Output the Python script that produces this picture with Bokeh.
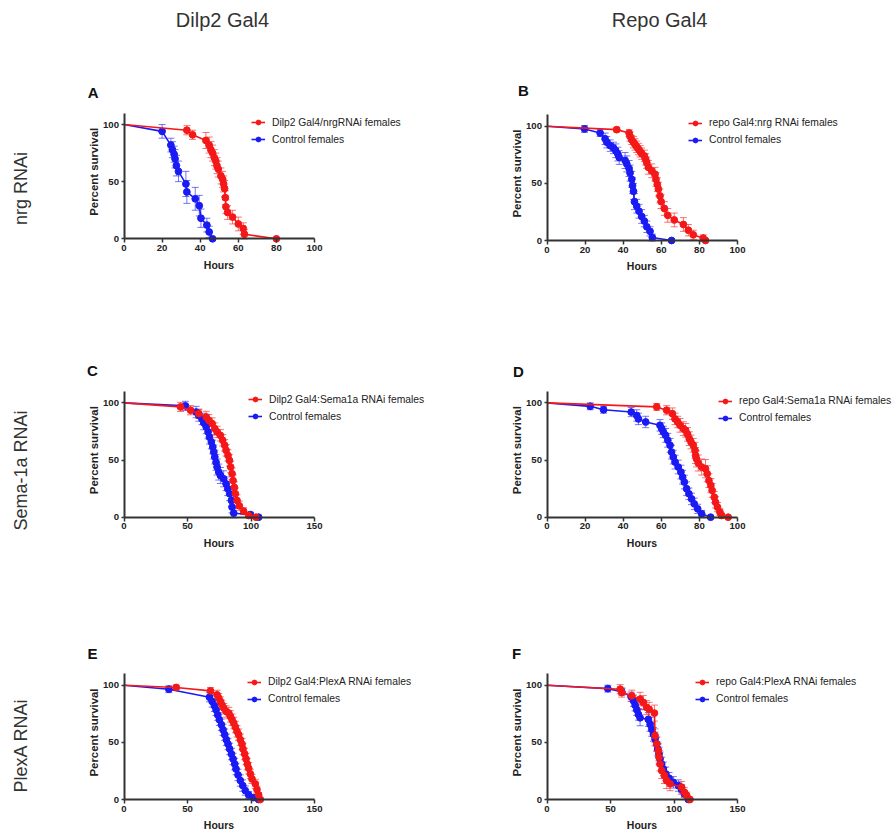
import math
from bokeh.plotting import figure
from bokeh.models import (Range1d, FixedTicker, Label, Legend, LegendItem,
                          Whisker, TeeHead, ColumnDataSource)
from bokeh.layouts import row, column
from bokeh.embed import file_html
from bokeh.resources import INLINE

# ---------------- data ----------------
col_titles = ["Dilp2 Gal4", "Repo Gal4"]
row_titles = ["nrg RNAi", "Sema-1a RNAi", "PlexA RNAi"]
panel_letters = ["A", "B", "C", "D", "E", "F"]
control_label = "Control females"
red_labels = ["Dilp2 Gal4/nrgRNAi females", "repo Gal4:nrg RNAi females",
              "Dilp2 Gal4:Sema1a RNAi females", "repo Gal4:Sema1a RNAi females",
              "Dilp2 Gal4:PlexA RNAi females", "repo Gal4:PlexA RNAi females"]
x_max = [100, 100, 150, 100, 150, 150]
x_ticks_100 = [0, 20, 40, 60, 80, 100]
x_ticks_150 = [0, 50, 100, 150]
y_ticks = [0, 50, 100]

# Panel A
a_red_x = [0, 33, 36, 43, 44.7, 45.6, 46.5, 47.4, 48.2, 48.8, 49.5, 50.9, 51.8, 52.3, 52.8, 53.2, 53.5, 54.4, 57, 60, 62.6, 63.2, 80]
a_red_y = [100, 95, 91, 86, 82, 78, 75, 71, 68, 64, 61, 55, 52, 48, 44, 36, 28, 23, 19, 13, 9, 4, 0]
a_red_e = [0, 4, 4, 7, 7, 7, 7, 7, 7, 7, 7, 7, 7, 7, 7, 6, 6, 6, 6, 6, 5, 4, 0]
a_blue_x = [0, 20, 24.6, 25.4, 26.3, 26.8, 27.5, 28.6, 32.5, 33, 37.4, 39.5, 40.4, 43.5, 44.7, 46.5]
a_blue_y = [100, 94, 82, 78, 74, 70, 64, 59, 48, 41, 35, 29, 18, 12, 6, 0]
a_blue_e = [0, 6, 6, 7, 7, 8, 9, 9, 11, 10, 10, 9, 8, 6, 5, 0]

# Panel B
b_red_x = [0, 36.6, 43.1, 43.6, 44.5, 45.4, 46.2, 47.1, 48, 48.9, 49.7, 51.1, 51.8, 52.4, 53.2, 55, 56.7, 57.2, 57.9, 58.5, 59.3, 59.9, 61.6, 63.4, 66.8, 71.6, 74.2, 76.8, 82, 83.2]
b_red_y = [100, 97, 94, 91, 88, 86, 84, 82, 80, 78, 76, 74, 71, 68, 64, 61, 58, 53.5, 49, 45, 39, 34, 28, 22, 18, 14, 9, 5, 2, 0]
b_red_e = [0, 2, 3, 4, 4, 5, 5, 5, 5, 5, 5, 5, 5, 5, 6, 6, 6, 6, 6, 6, 6, 6, 6, 6, 6, 6, 5, 4, 3, 0]
b_blue_x = [0, 19.7, 27.9, 30.5, 31.4, 33.2, 34.9, 36.1, 37.2, 37.9, 41, 41.9, 43.1, 43.6, 44.5, 44.9, 45.4, 45.9, 47.1, 48.3, 49.7, 51.1, 52.4, 54.1, 55.3, 65.4]
b_blue_y = [100, 97.6, 94, 89, 86, 83, 81, 78.5, 75.6, 72.6, 70, 67, 63, 59, 53.5, 48, 43, 34, 30, 25.6, 21, 17, 12, 8, 2.6, 0]
b_blue_e = [0, 3, 3, 5, 5, 5, 5, 6, 6, 6, 7, 7, 7, 7, 7, 7, 7, 7, 6, 6, 6, 5, 5, 4, 3, 0]

# Panel C
c_red_x = [0, 44.5, 52.4, 58.9, 64.7, 66.8, 69.4, 71.5, 73.3, 75.9, 77.7, 79.3, 80.4, 81.9, 83, 84, 85.1, 85.9, 86.9, 87.7, 89, 90.8, 94.2, 98.2, 103.9]
c_red_y = [100, 96.5, 93.6, 90.6, 87.7, 84.8, 81.9, 77.5, 74.6, 71.6, 67.3, 62.9, 58.5, 54, 49.7, 43.9, 38, 32, 26, 20.5, 14.6, 10, 5.3, 1.5, 0]
c_red_e = [0, 4, 4, 4, 5, 5, 5, 5, 5, 5, 5, 5, 5, 5, 5, 5, 5, 5, 5, 5, 5, 4, 3, 2, 0]
c_blue_x = [0, 48.4, 56.8, 58.9, 61.5, 62.8, 64.7, 66.2, 67.3, 68.8, 69.9, 70.7, 71.5, 72.5, 73.3, 74.6, 75.9, 78.5, 80.4, 81.7, 83.2, 84.6, 85.1, 86.4, 99.5, 106]
c_blue_y = [100, 97.4, 92, 89, 86, 82.5, 79, 74.6, 70, 65.8, 61.4, 57, 52.6, 48, 43.9, 39.5, 36.5, 33.6, 29.2, 24.9, 20.5, 14.6, 8.8, 3.5, 2.3, 0]
c_blue_e = [0, 4, 5, 5, 5, 6, 6, 6, 6, 6, 6, 6, 6, 7, 7, 7, 7, 7, 6, 6, 6, 5, 5, 4, 2, 0]

# Panel D
d_red_x = [0, 57.6, 62.8, 65.8, 67.2, 68.6, 69.8, 71.6, 72.8, 73.8, 74.7, 75.6, 76.8, 77.7, 78, 78.5, 79.4, 81.2, 83.2, 84.1, 85, 86, 86.7, 87.8, 88.5, 89.5, 90.8, 91.6, 95.1]
d_red_y = [100, 96.5, 93.6, 90.6, 86, 83.3, 80.4, 77.5, 76, 72.5, 68.7, 65.8, 62.9, 58.5, 54, 51, 47.4, 43.9, 42.4, 38, 32, 27.8, 23.4, 17.5, 13, 8.8, 4.4, 1.5, 0]
d_red_e = [0, 3, 4, 5, 5, 5, 6, 6, 6, 6, 6, 6, 6, 7, 7, 7, 7, 7, 8, 7, 6, 6, 6, 5, 5, 4, 3, 2, 0]
d_blue_x = [0, 22.7, 29.7, 44.2, 47.1, 48, 51.8, 59.3, 60.2, 61.1, 62.3, 63.4, 64.6, 65.4, 66.3, 67.2, 68.9, 70.3, 71.2, 72.1, 73.3, 74.5, 75.9, 77.3, 79.1, 81.2, 85.9]
d_blue_y = [100, 97, 94, 92, 89, 86, 83.3, 80.4, 77.5, 74.6, 71.6, 67.3, 62.9, 57, 52.6, 48.2, 43.9, 39.5, 35, 30.7, 24.9, 20.5, 16, 11.7, 7.3, 2.9, 0]
d_blue_e = [0, 3, 3, 4, 5, 5, 5, 5, 5, 5, 6, 6, 6, 6, 6, 6, 6, 6, 6, 6, 6, 5, 5, 5, 4, 3, 0]

# Panel E
e_red_x = [0, 41.1, 68.1, 73.3, 74.6, 75.9, 77.2, 78.5, 80.4, 82.5, 83.8, 85.1, 86.4, 87.7, 89, 90.3, 91.6, 92.9, 93.7, 95, 96.1, 97.1, 98.2, 99.5, 100.8, 103.4, 104.7, 106, 107.3]
e_red_y = [100, 98, 95, 91.6, 88.7, 85.8, 82.8, 80, 77, 75.6, 72.7, 69.8, 66.9, 63.4, 59.6, 56.7, 52.3, 48.5, 44.2, 39.8, 35.5, 31, 27.3, 22.4, 18, 13.7, 8.7, 4, 0]
e_red_e = [0, 2, 3, 4, 4, 4, 4, 4, 5, 5, 5, 5, 5, 5, 5, 5, 5, 5, 5, 5, 5, 5, 5, 4, 4, 4, 3, 2, 0]
e_blue_x = [0, 35.3, 67.3, 69.4, 71.2, 72.5, 73.8, 75.1, 76.7, 78, 79.3, 80.6, 81.9, 83.2, 84.6, 85.9, 87.2, 88.2, 89.8, 91.6, 93.5, 95.5, 98.2, 102.1, 106]
e_blue_y = [100, 96.5, 89.5, 85.8, 82, 78.5, 74, 69.8, 65.4, 61, 56.7, 52.3, 48.5, 44.2, 39.8, 35.5, 31, 26.7, 21.5, 16.6, 12.2, 7.8, 4, 1.7, 0]
e_blue_e = [0, 3, 4, 5, 5, 5, 5, 5, 5, 5, 5, 5, 5, 5, 5, 5, 5, 5, 5, 5, 5, 4, 3, 2, 0]

# Panel F
f_red_x = [0, 57.6, 58.9, 66.8, 73.3, 75.9, 78.5, 80.4, 84.6, 85.1, 86.4, 87.7, 88.2, 89, 90.3, 92.4, 94.2, 96.9, 106, 108.1, 110, 112.6]
f_red_y = [100, 96.5, 93.6, 90.7, 87.8, 84.9, 80.5, 79, 75.6, 55.8, 48.5, 42.7, 37, 31, 25.3, 21, 16.6, 13.7, 10.8, 6.4, 3.5, 0]
f_red_e = [0, 4, 4, 5, 6, 6, 6, 6, 7, 6, 6, 6, 6, 6, 7, 7, 7, 6, 5, 4, 3, 0]
f_blue_x = [0, 47.9, 58.9, 66.2, 68.1, 69.4, 70.7, 72, 73.3, 79.8, 81.2, 82.5, 83.8, 85.1, 86.4, 87.2, 88.2, 89, 90.3, 91.6, 93.5, 96.1, 99.5, 103.4, 106, 108.1, 111.3]
f_blue_y = [100, 97, 94.2, 90, 86.3, 82.5, 78.5, 74.4, 71.5, 70, 65.7, 61.3, 57, 52.9, 48.5, 44.2, 39.8, 35.5, 31, 26.7, 22.4, 18.6, 15, 12.2, 8.7, 5, 0]
f_blue_e = [0, 3, 3, 4, 5, 5, 5, 5, 7, 6, 6, 6, 6, 6, 6, 6, 6, 6, 6, 6, 6, 5, 5, 5, 4, 3, 0]

series = [
    (a_red_x, a_red_y, a_red_e, a_blue_x, a_blue_y, a_blue_e),
    (b_red_x, b_red_y, b_red_e, b_blue_x, b_blue_y, b_blue_e),
    (c_red_x, c_red_y, c_red_e, c_blue_x, c_blue_y, c_blue_e),
    (d_red_x, d_red_y, d_red_e, d_blue_x, d_blue_y, d_blue_e),
    (e_red_x, e_red_y, e_red_e, e_blue_x, e_blue_y, e_blue_e),
    (f_red_x, f_red_y, f_red_e, f_blue_x, f_blue_y, f_blue_e),
]

# ---------------- styling / layout (pixel geometry of the page) ----------------
FONT = "Liberation Sans"
RED = "#f41818"
BLUE = "#1a1af4"
AXIS = "#333333"
TEXT = "#222222"

AX_LEN_X = 190.5           # px for 0..xmax
PPY = 1.143                # px per percent

# cell geometry: (cell_x, cell_y, cell_w, cell_h), data origin (x0px, y0px)
cells = [
    (75, 70, 420, 279), (495, 70, 397, 279),
    (75, 349, 420, 281), (495, 349, 397, 281),
    (75, 630, 420, 199), (495, 630, 397, 199),
]
origins = [(123.5, 238.3), (546.5, 240), (123.5, 516.7), (546.5, 516.7), (123.5, 799), (546.5, 799)]
letter_pos = [(92.7, 92), (523, 90), (92, 370), (518, 371), (92, 653), (516, 653)]
legend_tl = [(251, 116), (688, 116.7), (248, 393), (718, 394.7), (247, 675.7), (695, 675.7)]
hours_dy = [26, 25, 26, 26, 25, 25]


def make_panel(i):
    cx, cy, cw, ch = cells[i]
    x0px, y0px = origins[i]
    xmax = x_max[i]
    ppx = AX_LEN_X / xmax

    def dx(px):
        return (px - x0px) / ppx

    def dy(py):
        return (y0px - py) / PPY

    p = figure(width=cw, height=ch, output_backend="svg", toolbar_location=None,
               x_range=Range1d(dx(cx), dx(cx + cw)), y_range=Range1d(dy(cy + ch), dy(cy)),
               min_border=0)
    p.outline_line_color = None
    p.grid.grid_line_color = None

    for ax in (p.xaxis[0], p.yaxis[0]):
        ax.axis_line_color = AXIS
        ax.axis_line_width = 2
        ax.major_tick_line_color = AXIS
        ax.major_tick_line_width = 1.5
        ax.major_tick_in = 0
        ax.minor_tick_line_color = None
        ax.major_label_text_font = FONT
        ax.major_label_text_font_style = "bold"
        ax.major_label_text_font_size = "9.6px"
        ax.major_label_text_color = TEXT
    p.xaxis.fixed_location = 0
    p.yaxis.fixed_location = 0
    p.xaxis.bounds = (0, xmax)
    p.yaxis.bounds = (0, 110)
    p.xaxis.ticker = FixedTicker(ticks=x_ticks_100 if xmax == 100 else x_ticks_150)
    p.yaxis.ticker = FixedTicker(ticks=y_ticks)
    p.xaxis.major_tick_out = 4
    p.xaxis.major_label_standoff = 2
    p.yaxis.major_tick_out = 3
    p.yaxis.major_label_standoff = 2

    rx, ry, re, bx, by, be = series[i]
    rends = {}
    for key, X, Y, E, col in (("blue", bx, by, be, BLUE), ("red", rx, ry, re, RED)):
        idx = [k for k in range(len(E)) if E[k] > 0]
        src = ColumnDataSource(dict(x=[X[k] for k in idx],
                                    upper=[Y[k] + E[k] for k in idx],
                                    lower=[Y[k] - E[k] for k in idx]))
        w = Whisker(source=src, base="x", upper="upper", lower="lower",
                    line_color=col, line_alpha=0.6, line_width=1,
                    upper_head=TeeHead(size=7, line_color=col, line_alpha=0.6, line_width=1),
                    lower_head=TeeHead(size=7, line_color=col, line_alpha=0.6, line_width=1))
        p.add_layout(w)
        lr = p.line(X, Y, line_color=col, line_width=1.6)
        sr = p.scatter(X[1:], Y[1:], marker="circle", size=6.8, fill_color=col,
                       line_color=col)
        rends[key] = [lr, sr]
    items = [LegendItem(label=red_labels[i], renderers=rends["red"]),
             LegendItem(label=control_label, renderers=rends["blue"])]
    lgx, lgy = legend_tl[i]
    leg = Legend(items=items, location=(lgx - cx, (cy + ch) - (lgy + 29)),
                 glyph_width=14, glyph_height=12,
                 label_height=12, spacing=5, padding=0, margin=0, label_standoff=7,
                 border_line_color=None, background_fill_alpha=0,
                 label_text_font=FONT, label_text_font_size="10.3px",
                 label_text_color=TEXT)
    p.add_layout(leg)

    lx, ly = letter_pos[i]
    p.add_layout(Label(x=dx(lx), y=dy(ly), text=panel_letters[i], text_align="center",
                       text_baseline="middle", text_font=FONT, text_font_style="bold",
                       text_font_size="15px", text_color="#111111"))
    p.add_layout(Label(x=dx(x0px - 30.5), y=dy(y0px - 67), text="Percent survival",
                       angle=math.pi / 2, text_align="center", text_baseline="middle",
                       text_font=FONT, text_font_style="bold", text_font_size="11.4px",
                       text_color=TEXT))
    p.add_layout(Label(x=dx(x0px + 95), y=dy(y0px + hours_dy[i]), text="Hours",
                       text_align="center", text_baseline="middle",
                       text_font=FONT, text_font_style="bold", text_font_size="10.5px",
                       text_color=TEXT))
    return p


def blank(w, h, xr, yr):
    p = figure(width=w, height=h, output_backend="svg", toolbar_location=None,
               x_range=Range1d(*xr), y_range=Range1d(*yr),
               x_axis_location=None, y_axis_location=None, min_border=0)
    p.outline_line_color = None
    p.grid.grid_line_color = None
    return p


header = blank(892, 70, (0, 892), (70, 0))
for t, xc in zip(col_titles, (222, 659)):
    header.add_layout(Label(x=xc, y=19, text=t, text_align="center", text_baseline="middle",
                            text_font=FONT, text_font_size="20px", text_color="#333333"))

side = blank(75, 759, (0, 75), (829, 70))
for t, yc in zip(row_titles, (188, 470, 745)):
    side.add_layout(Label(x=20, y=yc, text=t, angle=math.pi / 2, text_align="center",
                          text_baseline="middle", text_font=FONT, text_font_size="18px",
                          text_color="#333333"))

panels = [make_panel(i) for i in range(6)]
grid = column(row(panels[0], panels[1]), row(panels[2], panels[3]), row(panels[4], panels[5]))
layout = column(header, row(side, grid))

open("out.html", "w").write(file_html(layout, INLINE))
